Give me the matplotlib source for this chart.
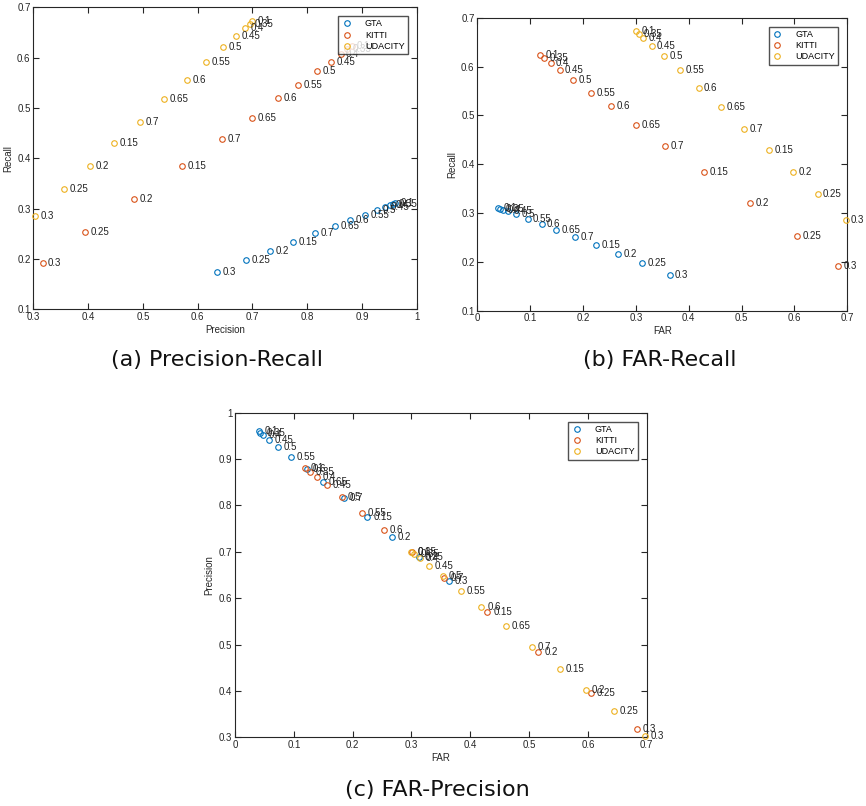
import numpy as np
import matplotlib
matplotlib.use("Agg")
import matplotlib.pyplot as plt

plt.rcParams['font.family'] = ['Liberation Sans', 'DejaVu Sans']

# threshold labels, in the order the points were written out
labels = ['0.1', '0.35', '0.4', '0.45', '0.5', '0.55', '0.6', '0.65', '0.7',
          '0.15', '0.2', '0.25', '0.3']

gta_far = [0.040, 0.043, 0.048, 0.058, 0.073, 0.095, 0.122, 0.149, 0.185,
           0.225, 0.267, 0.312, 0.364]
gta_prec = [0.960, 0.957, 0.952, 0.942, 0.927, 0.905, 0.878, 0.851, 0.815,
            0.775, 0.733, 0.688, 0.636]
gta_rec = [0.311, 0.309, 0.307, 0.304, 0.297, 0.288, 0.277, 0.265, 0.251,
           0.234, 0.216, 0.197, 0.174]

kitti_far = [0.119, 0.127, 0.139, 0.156, 0.182, 0.216, 0.253, 0.301, 0.356,
             0.429, 0.516, 0.605, 0.683]
kitti_prec = [0.881, 0.873, 0.861, 0.844, 0.818, 0.784, 0.747, 0.699, 0.644,
              0.571, 0.484, 0.395, 0.317]
kitti_rec = [0.624, 0.617, 0.608, 0.592, 0.573, 0.546, 0.519, 0.480, 0.438,
             0.384, 0.320, 0.253, 0.192]

uda_far = [0.300, 0.305, 0.314, 0.330, 0.353, 0.384, 0.419, 0.461, 0.505,
           0.552, 0.597, 0.644, 0.697]
uda_prec = [0.700, 0.695, 0.686, 0.670, 0.647, 0.616, 0.581, 0.539, 0.495,
            0.448, 0.403, 0.356, 0.303]
uda_rec = [0.673, 0.667, 0.658, 0.643, 0.622, 0.592, 0.556, 0.517, 0.473,
           0.430, 0.384, 0.339, 0.286]

names = ['GTA', 'KITTI', 'UDACITY']
colors = ['#0072BD', '#D95319', '#EDB120']
data = {
    'GTA': dict(far=gta_far, prec=gta_prec, rec=gta_rec),
    'KITTI': dict(far=kitti_far, prec=kitti_prec, rec=kitti_rec),
    'UDACITY': dict(far=uda_far, prec=uda_prec, rec=uda_rec),
}

W, H = 866, 806
fig = plt.figure(figsize=(W / 100, H / 100), dpi=100)


def make_axes(x0, y0, x1, y1):
    # pixel box (top-left origin) -> figure fraction
    return fig.add_axes([x0 / W, 1 - y1 / H, (x1 - x0) / W, (y1 - y0) / H])


def panel(ax, xkey, ykey, xlim, ylim, xlabel, ylabel):
    for name, col in zip(names, colors):
        xs = data[name][xkey]
        ys = data[name][ykey]
        ax.plot(xs, ys, 'o', ms=4, mfc='none', mec=col, mew=0.8,
                label=name, clip_on=False, zorder=3)
        for x, y, lab in zip(xs, ys, labels):
            ax.text(x + 0.01, y, lab, fontsize=7, va='center', ha='left',
                    color='#222222', zorder=3)
    ax.set_xlim(*xlim)
    ax.set_ylim(*ylim)
    ax.set_xlabel(xlabel, fontsize=7, color='#262626', labelpad=2)
    ax.set_ylabel(ylabel, fontsize=7, color='#262626', labelpad=3)
    ax.tick_params(direction='in', top=True, right=True, length=4,
                   width=0.8, labelsize=7, colors='#262626', pad=2)
    for s in ax.spines.values():
        s.set_color('#262626')
        s.set_linewidth(0.8)
    bb = ax.get_window_extent()
    leg = ax.legend(loc='upper right', fontsize=6.5, frameon=True, fancybox=False,
                    borderaxespad=0,
                    bbox_to_anchor=(1 - 9 / bb.width, 1 - 9 / bb.height),
                    handletextpad=1.4, borderpad=0.35, labelspacing=0.25,
                    handlelength=1.2)
    leg.get_frame().set_edgecolor('#262626')
    leg.get_frame().set_linewidth(1.0)
    return ax


ax_a = make_axes(33.3, 7.3, 416.7, 309.3)
panel(ax_a, 'prec', 'rec', (0.3, 1.0), (0.1, 0.7), 'Precision', 'Recall')
ax_a.set_xticks(np.arange(0.3, 1.01, 0.1))
ax_a.set_xticklabels(['0.3', '0.4', '0.5', '0.6', '0.7', '0.8', '0.9', '1'])

ax_b = make_axes(477.3, 17.7, 847.3, 310.7)
panel(ax_b, 'far', 'rec', (0, 0.7), (0.1, 0.7), 'FAR', 'Recall')
ax_b.set_xticks(np.arange(0, 0.71, 0.1))
ax_b.set_xticklabels(['0', '0.1', '0.2', '0.3', '0.4', '0.5', '0.6', '0.7'])

ax_c = make_axes(235, 412.7, 646.7, 737.3)
panel(ax_c, 'far', 'prec', (0, 0.7), (0.3, 1.0), 'FAR', 'Precision')
ax_c.set_xticks(np.arange(0, 0.71, 0.1))
ax_c.set_xticklabels(['0', '0.1', '0.2', '0.3', '0.4', '0.5', '0.6', '0.7'])
ax_c.set_yticks(np.arange(0.3, 1.01, 0.1))
ax_c.set_yticklabels(['0.3', '0.4', '0.5', '0.6', '0.7', '0.8', '0.9', '1'])

for ax in (ax_a, ax_b):
    ax.set_yticks(np.arange(0.1, 0.71, 0.1))
    ax.set_yticklabels(['0.1', '0.2', '0.3', '0.4', '0.5', '0.6', '0.7'])

cap = dict(fontsize=16, family=['DejaVu Sans'], color='#111111',
           ha='center', va='center')
fig.text(217 / W, 1 - 360 / H, '(a) Precision-Recall', **cap)
fig.text(660 / W, 1 - 360 / H, '(b) FAR-Recall', **cap)
fig.text(437 / W, 1 - 790 / H, '(c) FAR-Precision', **cap)

fig.savefig('out.png', dpi=100)
